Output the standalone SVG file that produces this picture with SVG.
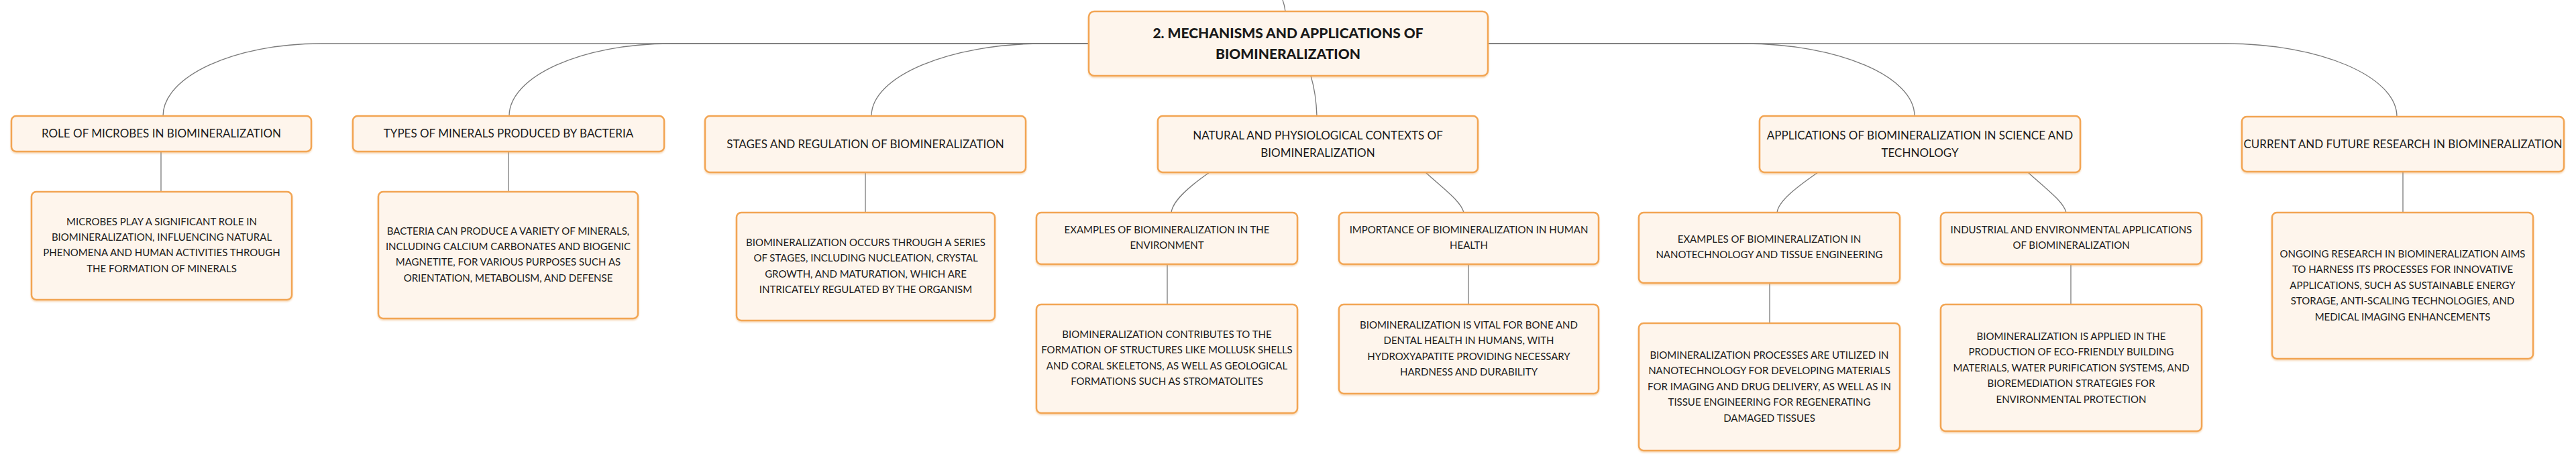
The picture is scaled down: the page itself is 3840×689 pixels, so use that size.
<svg xmlns="http://www.w3.org/2000/svg" width="3840" height="689" viewBox="0 0 3840 689">
<style>
.box{fill:#FEF5EC;stroke:#F2A553;stroke-width:2.5}
.t{font-family:Lato,"Open Sans","Liberation Sans",sans-serif;fill:#1a1a1a;text-anchor:middle}
.m{font-size:17px}
.s{font-size:15px}
.c{font-size:21px;font-weight:900}
.ln{fill:none;stroke:#7a7a7a;stroke-width:1.3}
</style>
<defs>
<filter id="sh" x="-5%" y="-10%" width="110%" height="130%">
<feDropShadow dx="0" dy="2" stdDeviation="1" flood-color="#E89A45" flood-opacity="0.35"/>
</filter>
</defs>
<rect width="3840" height="689" fill="#ffffff"/>
<g id="connectors">
<path class="ln" d="M1912 0 Q1915 8 1916 17"/>
<path class="ln" d="M1623 65 L478 65 C349 65 243 114 243 173"/>
<path class="ln" d="M1623 65 L1000 65 C867 65 759 114 759 173"/>
<path class="ln" d="M1623 65 L1556 65 C1415 65 1299 114 1299 173"/>
<path class="ln" d="M1954 113 Q1962 140 1963 173"/>
<path class="ln" d="M2218 65 L2600 65 C2740 65 2854 114 2854 173"/>
<path class="ln" d="M2218 65 L3318 65 C3458 65 3573 114 3573 174"/>
<path class="ln" d="M1803 257 C1770 280 1748 300 1746 317"/>
<path class="ln" d="M2125 257 C2150 280 2178 300 2182 317"/>
<path class="ln" d="M2710 257 C2677 280 2651 300 2649 317"/>
<path class="ln" d="M3023 257 C3048 280 3076 300 3080 317"/>
<path class="ln" d="M240 226 L240 286"/>
<path class="ln" d="M758 226 L758 286"/>
<path class="ln" d="M1290 257 L1290 317"/>
<path class="ln" d="M1740 394 L1740 454"/>
<path class="ln" d="M2189 394 L2189 454"/>
<path class="ln" d="M2638 422 L2638 482"/>
<path class="ln" d="M3087 394 L3087 454"/>
<path class="ln" d="M3582 256 L3582 317"/>
</g>
<g id="center">
<rect class="box" filter="url(#sh)" x="1623" y="17" width="595" height="96" rx="8"/>
<text class="t c" x="1920" y="57">2. MECHANISMS AND APPLICATIONS OF</text>
<text class="t c" x="1920" y="88">BIOMINERALIZATION</text>
</g>
<g id="role">
<rect class="box" filter="url(#sh)" x="17" y="173" width="447" height="53" rx="7"/>
<text class="t m" x="240.5" y="205">ROLE OF MICROBES IN BIOMINERALIZATION</text>
</g>
<g id="role-detail">
<rect class="box" filter="url(#sh)" x="47" y="286" width="388" height="161" rx="7"/>
<text class="t s" x="241" y="335.5">MICROBES PLAY A SIGNIFICANT ROLE IN</text>
<text class="t s" x="241" y="358.9">BIOMINERALIZATION, INFLUENCING NATURAL</text>
<text class="t s" x="241" y="382.3">PHENOMENA AND HUMAN ACTIVITIES THROUGH</text>
<text class="t s" x="241" y="405.7">THE FORMATION OF MINERALS</text>
</g>
<g id="types">
<rect class="box" filter="url(#sh)" x="526" y="173" width="464" height="53" rx="7"/>
<text class="t m" x="758" y="205">TYPES OF MINERALS PRODUCED BY BACTERIA</text>
</g>
<g id="types-detail">
<rect class="box" filter="url(#sh)" x="564" y="286" width="387" height="189" rx="7"/>
<text class="t s" x="757.5" y="349.5">BACTERIA CAN PRODUCE A VARIETY OF MINERALS,</text>
<text class="t s" x="757.5" y="372.9">INCLUDING CALCIUM CARBONATES AND BIOGENIC</text>
<text class="t s" x="757.5" y="396.3">MAGNETITE, FOR VARIOUS PURPOSES SUCH AS</text>
<text class="t s" x="757.5" y="419.7">ORIENTATION, METABOLISM, AND DEFENSE</text>
</g>
<g id="stages">
<rect class="box" filter="url(#sh)" x="1051" y="173" width="478" height="84" rx="7"/>
<text class="t m" x="1290" y="221">STAGES AND REGULATION OF BIOMINERALIZATION</text>
</g>
<g id="stages-detail">
<rect class="box" filter="url(#sh)" x="1098" y="317" width="385" height="161" rx="7"/>
<text class="t s" x="1290.5" y="367">BIOMINERALIZATION OCCURS THROUGH A SERIES</text>
<text class="t s" x="1290.5" y="390.4">OF STAGES, INCLUDING NUCLEATION, CRYSTAL</text>
<text class="t s" x="1290.5" y="413.8">GROWTH, AND MATURATION, WHICH ARE</text>
<text class="t s" x="1290.5" y="437.2">INTRICATELY REGULATED BY THE ORGANISM</text>
</g>
<g id="natural">
<rect class="box" filter="url(#sh)" x="1726" y="173" width="477" height="84" rx="7"/>
<text class="t m" x="1964.5" y="208">NATURAL AND PHYSIOLOGICAL CONTEXTS OF</text>
<text class="t m" x="1964.5" y="234">BIOMINERALIZATION</text>
</g>
<g id="env">
<rect class="box" filter="url(#sh)" x="1545" y="317" width="389" height="77" rx="7"/>
<text class="t s" x="1739.5" y="348">EXAMPLES OF BIOMINERALIZATION IN THE</text>
<text class="t s" x="1739.5" y="371.4">ENVIRONMENT</text>
</g>
<g id="env-detail">
<rect class="box" filter="url(#sh)" x="1545" y="454" width="389" height="162" rx="7"/>
<text class="t s" x="1739.5" y="504">BIOMINERALIZATION CONTRIBUTES TO THE</text>
<text class="t s" x="1739.5" y="527.4">FORMATION OF STRUCTURES LIKE MOLLUSK SHELLS</text>
<text class="t s" x="1739.5" y="550.8">AND CORAL SKELETONS, AS WELL AS GEOLOGICAL</text>
<text class="t s" x="1739.5" y="574.2">FORMATIONS SUCH AS STROMATOLITES</text>
</g>
<g id="health">
<rect class="box" filter="url(#sh)" x="1996" y="317" width="387" height="77" rx="7"/>
<text class="t s" x="2189.5" y="348">IMPORTANCE OF BIOMINERALIZATION IN HUMAN</text>
<text class="t s" x="2189.5" y="371.4">HEALTH</text>
</g>
<g id="health-detail">
<rect class="box" filter="url(#sh)" x="1996" y="454" width="387" height="133" rx="7"/>
<text class="t s" x="2189.5" y="490">BIOMINERALIZATION IS VITAL FOR BONE AND</text>
<text class="t s" x="2189.5" y="513.4">DENTAL HEALTH IN HUMANS, WITH</text>
<text class="t s" x="2189.5" y="536.8">HYDROXYAPATITE PROVIDING NECESSARY</text>
<text class="t s" x="2189.5" y="560.2">HARDNESS AND DURABILITY</text>
</g>
<g id="applications">
<rect class="box" filter="url(#sh)" x="2623" y="173" width="478" height="84" rx="7"/>
<text class="t m" x="2862" y="208">APPLICATIONS OF BIOMINERALIZATION IN SCIENCE AND</text>
<text class="t m" x="2862" y="234">TECHNOLOGY</text>
</g>
<g id="nano">
<rect class="box" filter="url(#sh)" x="2443" y="317" width="389" height="105" rx="7"/>
<text class="t s" x="2637.5" y="362">EXAMPLES OF BIOMINERALIZATION IN</text>
<text class="t s" x="2637.5" y="385.4">NANOTECHNOLOGY AND TISSUE ENGINEERING</text>
</g>
<g id="nano-detail">
<rect class="box" filter="url(#sh)" x="2443" y="482" width="389" height="190" rx="7"/>
<text class="t s" x="2637.5" y="535">BIOMINERALIZATION PROCESSES ARE UTILIZED IN</text>
<text class="t s" x="2637.5" y="558.4">NANOTECHNOLOGY FOR DEVELOPING MATERIALS</text>
<text class="t s" x="2637.5" y="581.8">FOR IMAGING AND DRUG DELIVERY, AS WELL AS IN</text>
<text class="t s" x="2637.5" y="605.2">TISSUE ENGINEERING FOR REGENERATING</text>
<text class="t s" x="2637.5" y="628.6">DAMAGED TISSUES</text>
</g>
<g id="industrial">
<rect class="box" filter="url(#sh)" x="2893" y="317" width="389" height="77" rx="7"/>
<text class="t s" x="3087.5" y="348">INDUSTRIAL AND ENVIRONMENTAL APPLICATIONS</text>
<text class="t s" x="3087.5" y="371.4">OF BIOMINERALIZATION</text>
</g>
<g id="industrial-detail">
<rect class="box" filter="url(#sh)" x="2893" y="454" width="389" height="189" rx="7"/>
<text class="t s" x="3087.5" y="507">BIOMINERALIZATION IS APPLIED IN THE</text>
<text class="t s" x="3087.5" y="530.4">PRODUCTION OF ECO-FRIENDLY BUILDING</text>
<text class="t s" x="3087.5" y="553.8">MATERIALS, WATER PURIFICATION SYSTEMS, AND</text>
<text class="t s" x="3087.5" y="577.2">BIOREMEDIATION STRATEGIES FOR</text>
<text class="t s" x="3087.5" y="600.6">ENVIRONMENTAL PROTECTION</text>
</g>
<g id="research">
<rect class="box" filter="url(#sh)" x="3342" y="174" width="480" height="82" rx="7"/>
<text class="t m" x="3582" y="221">CURRENT AND FUTURE RESEARCH IN BIOMINERALIZATION</text>
</g>
<g id="research-detail">
<rect class="box" filter="url(#sh)" x="3387" y="317" width="389" height="218" rx="7"/>
<text class="t s" x="3581.5" y="384">ONGOING RESEARCH IN BIOMINERALIZATION AIMS</text>
<text class="t s" x="3581.5" y="407.4">TO HARNESS ITS PROCESSES FOR INNOVATIVE</text>
<text class="t s" x="3581.5" y="430.8">APPLICATIONS, SUCH AS SUSTAINABLE ENERGY</text>
<text class="t s" x="3581.5" y="454.2">STORAGE, ANTI-SCALING TECHNOLOGIES, AND</text>
<text class="t s" x="3581.5" y="477.6">MEDICAL IMAGING ENHANCEMENTS</text>
</g>
</svg>
